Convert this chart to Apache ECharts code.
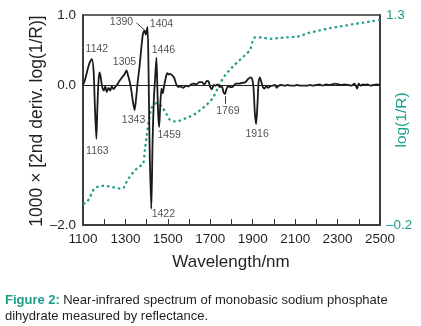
<!DOCTYPE html>
<html>
<head>
<meta charset="utf-8">
<script src="https://cdn.jsdelivr.net/npm/echarts@6/dist/echarts.min.js"></script>
<style>
  html, body { margin: 0; padding: 0; background: #fff; }
  #chart { width: 421px; height: 326px; }
</style>
</head>
<body>
<div id="chart"></div>
<script>
// Second-derivative spectrum, 1000 x [2nd deriv. log(1/R)]
const derivWl = [
  1100, 1110, 1120, 1130, 1142, 1150, 1156, 1163, 1168, 1173, 1178, 1183, 1190, 1198,
  1205, 1212, 1220, 1228, 1236, 1244, 1252, 1260, 1270, 1282, 1295, 1305, 1312, 1320,
  1328, 1336, 1343, 1350, 1358, 1366, 1374, 1382, 1390, 1396, 1404, 1409, 1414, 1422,
  1428, 1434, 1440, 1446, 1451, 1455, 1459, 1464, 1470, 1476, 1482, 1490, 1497, 1504,
  1512, 1520, 1530, 1540, 1550, 1560, 1572, 1585, 1598, 1610, 1622, 1635, 1648, 1660,
  1672, 1684, 1692, 1700, 1708, 1716, 1726, 1735, 1745, 1755, 1762, 1769, 1776, 1784,
  1795, 1808, 1820, 1835, 1850, 1865, 1880, 1890, 1898, 1904, 1910, 1916, 1922, 1928,
  1934, 1940, 1948, 1956, 1964, 1972, 1982, 1992, 2005, 2013, 2022, 2035, 2050, 2065,
  2080, 2095, 2110, 2125, 2140, 2155, 2170, 2185, 2200, 2215, 2230, 2245, 2260, 2275,
  2290, 2305, 2320, 2335, 2350, 2365, 2380, 2392, 2400, 2410, 2420, 2430, 2440, 2455,
  2470, 2485, 2500
];
const derivVal = [
  0.00, 0.08, 0.20, 0.31, 0.37, 0.20, -0.30, -0.77, -0.30, 0.05, 0.18, 0.12, -0.02, -0.08,
  -0.02, -0.10, -0.04, -0.08, -0.02, -0.06, -0.03, 0.00, 0.05, 0.10, 0.15, 0.21, 0.14, 0.05,
  -0.08, -0.25, -0.36, -0.20, 0.05, 0.25, 0.50, 0.72, 0.78, 0.72, 0.83, 0.20, -0.90, -1.77,
  -0.80, -0.20, 0.10, 0.39, -0.10, -0.45, -0.60, -0.30, -0.05, -0.12, -0.02, 0.10, 0.17, 0.15,
  0.16, 0.14, 0.10, 0.01, -0.03, -0.02, -0.04, -0.01, -0.02, 0.01, 0.02, 0.01, 0.04, 0.04,
  0.01, 0.06, 0.05, -0.03, -0.06, 0.00, -0.01, 0.01, -0.03, -0.02, -0.10, -0.13, -0.06, -0.02,
  -0.03, -0.02, 0.02, 0.02, 0.03, 0.04, 0.09, 0.11, 0.08, -0.05, -0.40, -0.56, -0.30, 0.05,
  0.11, 0.05, -0.03, -0.05, -0.01, -0.04, -0.02, -0.01, 0.00, -0.04, -0.01, 0.00, -0.01, 0.00,
  -0.01, -0.01, 0.00, -0.01, -0.01, -0.01, 0.00, -0.01, 0.00, 0.01, -0.01, 0.01, 0.00, 0.01,
  0.02, 0.01, 0.00, 0.01, 0.00, -0.01, 0.02, -0.05, 0.02, -0.01, 0.01, 0.00, 0.01, -0.01,
  0.00, 0.01, 0.00
];

// Absorbance spectrum, log(1/R)
const logWl = [
  1100, 1115, 1130, 1145, 1157, 1175, 1195, 1215, 1235, 1255, 1275, 1290, 1298, 1314,
  1345, 1369, 1384, 1392, 1400, 1411, 1424, 1447, 1471, 1494, 1510, 1534, 1555, 1580,
  1605, 1630, 1652, 1680, 1700, 1713, 1730, 1746, 1770, 1793, 1815, 1840, 1865, 1887,
  1899, 1911, 1943, 1982, 2020, 2060, 2100, 2123, 2160, 2217, 2260, 2300, 2340, 2373,
  2420, 2460, 2500
];
const logVal = [
  -0.05, -0.04, -0.01, 0.04, 0.065, 0.075, 0.08, 0.078, 0.072, 0.066, 0.06, 0.062, 0.086, 0.13,
  0.19, 0.22, 0.24, 0.34, 0.43, 0.55, 0.64, 0.67, 0.645, 0.59, 0.55, 0.54, 0.545, 0.56,
  0.575, 0.595, 0.62, 0.655, 0.685, 0.71, 0.76, 0.81, 0.87, 0.91, 0.945, 0.98, 1.015, 1.05,
  1.11, 1.14, 1.14, 1.13, 1.135, 1.14, 1.145, 1.15, 1.17, 1.19, 1.205, 1.215, 1.225, 1.235,
  1.245, 1.255, 1.265
];

// Annotated band positions (nm)
const bandWl = [1142, 1163, 1305, 1343, 1390, 1404, 1422, 1446, 1459, 1769, 1916];

// Axis tick labels
const leftTicks = [1.0, 0.0, -2.0];
const rightTicks = [1.3, -0.2];
const xLabelTicks = [1100, 1300, 1500, 1700, 1900, 2100, 2300, 2500];

const TEAL = '#1a9e8a';
const INK = '#231f20';
const FONT = 'Liberation Sans';

// Label placement around each band (pixel offsets from the band point)
const bandLabelOffset = {
  1142: [5, -10], 1163: [1, 12], 1305: [-2, -8], 1343: [-1, 10], 1390: [-23, -8],
  1404: [14, -3], 1422: [12, 5], 1446: [7, -8], 1459: [10, 8], 1769: [3, 17], 1916: [1, 10]
};

const fmtSigned = v => (v < 0 ? '\u2013' : '') + Math.abs(v).toFixed(1);
const near = (v, list) => list.some(t => Math.abs(t - v) < 1e-6);

const derivData = derivWl.map((w, i) => [w, derivVal[i]]);
const logData = logWl.map((w, i) => [w, logVal[i]]);
const bandData = bandWl.map(w => {
  const i = derivWl.indexOf(w);
  return {
    value: [w, derivVal[i]],
    label: { offset: bandLabelOffset[w] }
  };
});

const chart = echarts.init(document.getElementById('chart'), null, { renderer: 'canvas' });
chart.setOption({
  animation: false,
  backgroundColor: '#fff',
  grid: {
    left: 83, right: 41, top: 15, bottom: 101,
    show: true, borderColor: '#333', borderWidth: 1.5, backgroundColor: 'transparent'
  },
  xAxis: {
    type: 'value', min: 1100, max: 2500, interval: 100,
    axisLine: { show: true, onZero: false, lineStyle: { color: '#333', width: 1.5 } },
    axisTick: { show: true, inside: true, length: 6, lineStyle: { color: '#333', width: 1 } },
    splitLine: { show: false },
    axisLabel: {
      margin: 7, color: INK, fontFamily: FONT, fontSize: 13.5,
      formatter: v => near(v, xLabelTicks) ? String(v) : ''
    }
  },
  yAxis: [
    {
      type: 'value', min: -2, max: 1, interval: 1,
      axisLine: { show: true, onZero: false, lineStyle: { color: '#333', width: 1.5 } },
      axisTick: { show: false },
      splitLine: { show: false },
      axisLabel: {
        margin: 7, color: INK, fontFamily: FONT, fontSize: 13.5,
        formatter: v => near(v, leftTicks) ? fmtSigned(v) : ''
      }
    },
    {
      type: 'value', min: -0.2, max: 1.3, position: 'right',
      axisLine: { show: true, onZero: false, lineStyle: { color: '#333', width: 1.5 } },
      axisTick: { show: false },
      splitLine: { show: false },
      axisLabel: {
        margin: 6, color: TEAL, fontFamily: FONT, fontSize: 13.5,
        showMinLabel: true, showMaxLabel: true,
        formatter: v => near(v, rightTicks) ? fmtSigned(v) : ''
      }
    }
  ],
  series: [
    {
      name: 'log(1/R)', type: 'line', yAxisIndex: 1, data: logData,
      showSymbol: false, smooth: 0.3, z: 2,
      lineStyle: { color: TEAL, width: 2.2, type: [2.5, 3] }
    },
    {
      name: '2nd derivative', type: 'line', yAxisIndex: 0, data: derivData,
      showSymbol: false, smooth: 0.25, z: 3,
      lineStyle: { color: '#1a1a1a', width: 1.8 },
      markLine: {
        silent: true, symbol: 'none', label: { show: false },
        lineStyle: { color: '#222', width: 1, type: 'solid' },
        data: [{ yAxis: 0 }]
      }
    },
    {
      name: 'bands', type: 'scatter', yAxisIndex: 0, data: bandData,
      symbolSize: 0, z: 4, silent: true,
      label: {
        show: true, position: 'inside', color: INK, fontFamily: FONT, fontSize: 10.5,
        formatter: p => String(p.value[0])
      },
      markLine: {
        silent: true, symbol: 'none', label: { show: false },
        lineStyle: { color: '#222', width: 0.9, type: 'solid' },
        data: [
          [{ coord: [1352, 0.89] }, { coord: [1388, 0.79] }],
          [{ coord: [1769, -0.16] }, { coord: [1769, -0.27] }]
        ]
      }
    }
  ],
  graphic: [
    {
      type: 'text', x: 37, y: 121, rotation: Math.PI / 2,
      style: {
        text: '1000 \u00d7 [2nd deriv. log(1/R)]', fill: INK, fontFamily: FONT, fontSize: 17.5,
        align: 'center', verticalAlign: 'middle'
      }
    },
    {
      type: 'text', x: 402, y: 120, rotation: Math.PI / 2,
      style: {
        text: 'log(1/R)', fill: TEAL, fontFamily: FONT, fontSize: 15.5,
        align: 'center', verticalAlign: 'middle'
      }
    },
    {
      type: 'text', x: 231, y: 262,
      style: {
        text: 'Wavelength/nm', fill: INK, fontFamily: FONT, fontSize: 17,
        align: 'center', verticalAlign: 'middle'
      }
    },
    {
      type: 'text', x: 5, y: 300,
      style: {
        text: '{b|Figure 2:} {n|Near-infrared spectrum of monobasic sodium phosphate}',
        verticalAlign: 'middle',
        rich: {
          b: { fill: TEAL, fontFamily: FONT, fontSize: 13, fontWeight: 'bold' },
          n: { fill: INK, fontFamily: FONT, fontSize: 13 }
        }
      }
    },
    {
      type: 'text', x: 5, y: 316,
      style: {
        text: 'dihydrate measured by reflectance.', fill: INK, fontFamily: FONT, fontSize: 13,
        verticalAlign: 'middle'
      }
    }
  ]
});
</script>
</body>
</html>
